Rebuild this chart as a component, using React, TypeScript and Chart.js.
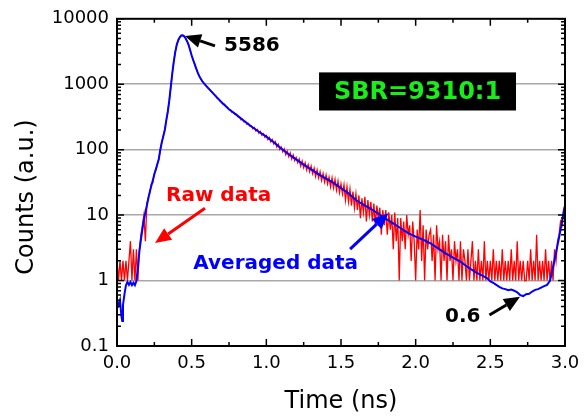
import React, { useEffect, useRef } from 'react';
import { Chart, registerables } from 'chart.js';

Chart.register(...registerables);

// ---------- data ----------
const RAW_T0 = 0;
const RAW_DT = 0.01; // ns between raw samples
const rawCounts = [
  2, 1, 2, 1, 2, 1, 2, 1, 2, 4,
  1, 3, 1, 3, 1, 3, 5, 7, 10, 4,
  15, 19, 22, 30, 31, 43, 49, 61, 71, 99,
  129, 162, 201, 279, 381, 558, 902, 1446, 2205, 3096,
  4005, 4697, 5204, 5541, 5586, 5396, 5004, 4494, 3957, 3296,
  2757, 2343, 2036, 1744, 1526, 1333, 1228, 1114, 1052, 979,
  935, 874, 838, 779, 748, 693, 667, 612, 597, 553,
  541, 497, 495, 462, 441, 410, 409, 372, 371, 346,
  349, 318, 320, 286, 294, 265, 270, 243, 251, 228,
  232, 209, 218, 192, 204, 178, 190, 166, 176, 155,
  165, 143, 154, 131, 143, 122, 133, 110, 121, 101,
  110, 93, 103, 84, 95, 78, 89, 72, 83, 68,
  76, 63, 72, 56, 67, 53, 63, 49, 59, 46,
  56, 43, 52, 39, 49, 37, 46, 34, 43, 32,
  41, 30, 38, 27, 37, 26, 35, 24, 33, 22,
  30, 21, 29, 17, 27, 16, 25, 14, 23, 13,
  21, 12, 20, 9, 18, 11, 19, 8, 17, 10,
  16, 8, 15, 7, 14, 9, 13, 5, 12, 7,
  12, 5, 11, 6, 10, 3, 11, 4, 9, 1,
  9, 4, 8, 3, 10, 5, 7, 2, 8, 4,
  1, 6, 3, 12, 2, 7, 1, 6, 3, 5,
  6, 2, 5, 1, 7, 3, 4, 1, 5, 2,
  4, 1, 5, 2, 3, 1, 4, 2, 3, 1,
  4, 1, 3, 2, 1, 3, 1, 2, 4, 1,
  2, 1, 3, 1, 2, 1, 4, 1, 2, 1,
  2, 1, 3, 1, 2, 1, 2, 1, 3, 1,
  2, 1, 2, 1, 3, 1, 2, 1, 4, 1,
  2, 1, 2, 1, 1, 2, 1, 3, 1, 2,
  1, 5, 1, 2, 1, 2, 1, 3, 1, 2,
  1, 2, 1, 3, 2, 4, 5, 8, 7, 12, 14,
];

const avgTime = [
  0, 0.01, 0.02, 0.03, 0.035, 0.04, 0.05, 0.06, 0.07, 0.08, 0.09, 0.1, 0.11, 0.12, 0.13,
  0.14, 0.15, 0.16, 0.17, 0.18, 0.19, 0.2, 0.21, 0.22, 0.23, 0.24, 0.25, 0.26, 0.27, 0.28, 0.29,
  0.3, 0.31, 0.32, 0.33, 0.34, 0.35, 0.36, 0.37, 0.38, 0.39, 0.4, 0.41, 0.42, 0.43, 0.44,
  0.45, 0.46, 0.47, 0.48, 0.49, 0.5, 0.51, 0.52, 0.53, 0.54, 0.55, 0.56, 0.57, 0.58, 0.59, 0.6,
  0.65, 0.7, 0.75, 0.8, 0.85, 0.9, 0.95, 1.0, 1.05, 1.1, 1.15, 1.2, 1.25, 1.3, 1.35, 1.4,
  1.45, 1.5, 1.55, 1.6, 1.65, 1.7, 1.75, 1.8, 1.85, 1.9, 1.95, 2.0, 2.05, 2.1, 2.15, 2.2,
  2.25, 2.3, 2.35, 2.4, 2.45, 2.48, 2.5, 2.52, 2.54, 2.56, 2.58, 2.6, 2.62, 2.64, 2.66, 2.68,
  2.7, 2.72, 2.74, 2.76, 2.78, 2.8, 2.82, 2.84, 2.86, 2.88, 2.9, 2.92, 2.94, 2.96, 2.98, 3.0,
];
const avgCounts = [
  0.49, 0.42, 0.5, 0.28, 0.24, 0.42, 0.62, 0.85, 0.95, 0.86, 0.95, 0.85, 0.93, 0.85, 0.98,
  1.6, 2.8, 4.2, 6.0, 8.5, 11, 14, 18, 23, 28, 34, 42, 50, 60, 72, 100,
  130, 160, 200, 280, 380, 560, 900, 1450, 2200, 3100, 4000, 4700, 5200, 5550, 5586,
  5400, 5000, 4500, 3950, 3300, 2750, 2350, 2030, 1750, 1520, 1340, 1220, 1120, 1045, 985, 930,
  700, 530, 415, 340, 276, 226, 188, 158, 130, 104, 85, 71, 59, 50, 42, 36,
  31, 26, 21.5, 17, 14.5, 12.5, 10.5, 8.8, 7.5, 6.3, 5.3, 4.7, 4.2, 3.7, 3.1, 2.6,
  2.25, 1.95, 1.6, 1.35, 1.18, 1.08, 0.97, 0.92, 0.86, 0.8, 0.76, 0.74, 0.71, 0.73, 0.7, 0.66,
  0.6, 0.58, 0.62, 0.63, 0.68, 0.72, 0.74, 0.78, 0.82, 0.86, 1.0, 1.6, 2.7, 4.5, 8, 14,
];

const xTicks = [0, 0.5, 1, 1.5, 2, 2.5, 3];
const xTickLabels = ['0.0', '0.5', '1.0', '1.5', '2.0', '2.5', '3.0'];
const yTicks = [0.1, 1, 10, 100, 1000, 10000];
const yTickLabels = ['0.1', '1', '10', '100', '1000', '10000'];
const yGridValues = [1, 10, 100, 1000];

const xTitle = 'Time (ns)';
const yTitle = 'Counts (a.u.)';

// annotations in data coordinates
const textNotes = [
  { text: '5586', t: 0.717, v: 3810, color: '#000000' },
  { text: 'Raw data', t: 0.328, v: 19.6, color: '#ff0000' },
  { text: 'Averaged data', t: 0.511, v: 1.81, color: '#0000ff' },
  { text: '0.6', t: 2.197, v: 0.279, color: '#000000' },
];
const arrowNotes = [
  { t0: 0.656, v0: 3860, t1: 0.455, v1: 5480, color: '#000000' },
  { t0: 0.589, v0: 12.7, t1: 0.2545, v1: 3.74, color: '#ff0000' },
  { t0: 1.561, v0: 3.03, t1: 1.817, v1: 10.7, color: '#0000ff' },
  { t0: 2.494, v0: 0.297, t1: 2.699, v1: 0.565, color: '#000000' },
];
const sbrNote = { text: 'SBR=9310:1', t0: 1.353, t1: 2.672, v0: 397, v1: 1517 };

const FONT = "'DejaVu Sans', Verdana, sans-serif";

function drawArrow(ctx: CanvasRenderingContext2D, x0: number, y0: number, x1: number, y1: number, color: string) {
  const ang = Math.atan2(y1 - y0, x1 - x0);
  const headLen = 16;
  const headHalf = 7;
  const bx = x1 - headLen * Math.cos(ang);
  const by = y1 - headLen * Math.sin(ang);
  ctx.save();
  ctx.strokeStyle = color;
  ctx.fillStyle = color;
  ctx.lineWidth = 3;
  ctx.beginPath();
  ctx.moveTo(x0, y0);
  ctx.lineTo(bx, by);
  ctx.stroke();
  ctx.beginPath();
  ctx.moveTo(x1, y1);
  ctx.lineTo(bx + headHalf * Math.sin(ang), by - headHalf * Math.cos(ang));
  ctx.lineTo(bx - headHalf * Math.sin(ang), by + headHalf * Math.cos(ang));
  ctx.closePath();
  ctx.fill();
  ctx.restore();
}

const framePlugin = {
  id: 'framePlugin',
  afterDatasetsDraw(chart: any) {
    const { ctx, chartArea } = chart;
    const { left, right, top, bottom } = chartArea;
    const xs = chart.scales.x;
    const ys = chart.scales.y;
    ctx.save();
    ctx.strokeStyle = '#000000';
    ctx.lineWidth = 1.5;
    ctx.beginPath();
    for (let k = 0; k <= 12; k++) {
      const px = xs.getPixelForValue(k * 0.25);
      const len = k % 2 === 0 ? 7 : 4;
      ctx.moveTo(px, bottom);
      ctx.lineTo(px, bottom - len);
      ctx.moveTo(px, top);
      ctx.lineTo(px, top + len);
    }
    for (let d = -1; d <= 4; d++) {
      const base = Math.pow(10, d);
      for (let m = 1; m <= 9; m++) {
        if (d === 4 && m > 1) break;
        const py = ys.getPixelForValue(base * m);
        const len = m === 1 ? 7 : 4;
        ctx.moveTo(left, py);
        ctx.lineTo(left + len, py);
        ctx.moveTo(right, py);
        ctx.lineTo(right - len, py);
      }
    }
    ctx.stroke();
    ctx.lineWidth = 2;
    ctx.strokeRect(left, top, right - left, bottom - top);
    ctx.restore();
  },
  afterDraw(chart: any) {
    const { ctx, chartArea } = chart;
    const xs = chart.scales.x;
    const ys = chart.scales.y;
    ctx.save();
    // axis titles
    ctx.fillStyle = '#000000';
    ctx.font = `24px ${FONT}`;
    ctx.textAlign = 'center';
    ctx.textBaseline = 'middle';
    ctx.fillText(xTitle, (chartArea.left + chartArea.right) / 2, 402);
    ctx.save();
    ctx.translate(27, 197);
    ctx.rotate(-Math.PI / 2);
    ctx.fillText(yTitle, 0, 0);
    ctx.restore();

    // SBR box
    const bx0 = xs.getPixelForValue(sbrNote.t0);
    const bx1 = xs.getPixelForValue(sbrNote.t1);
    const by0 = ys.getPixelForValue(sbrNote.v1);
    const by1 = ys.getPixelForValue(sbrNote.v0);
    ctx.fillStyle = '#000000';
    ctx.fillRect(bx0, by0, bx1 - bx0, by1 - by0);
    ctx.fillStyle = '#1aee1a';
    ctx.font = `bold 24px ${FONT}`;
    ctx.textAlign = 'center';
    ctx.textBaseline = 'middle';
    ctx.fillText(sbrNote.text, (bx0 + bx1) / 2, (by0 + by1) / 2 + 1);

    // text notes
    ctx.font = `bold 20px ${FONT}`;
    ctx.textAlign = 'left';
    ctx.textBaseline = 'middle';
    for (const n of textNotes) {
      ctx.fillStyle = n.color;
      ctx.fillText(n.text, xs.getPixelForValue(n.t), ys.getPixelForValue(n.v));
    }
    for (const a of arrowNotes) {
      drawArrow(
        ctx,
        xs.getPixelForValue(a.t0),
        ys.getPixelForValue(a.v0),
        xs.getPixelForValue(a.t1),
        ys.getPixelForValue(a.v1),
        a.color,
      );
    }
    ctx.restore();
  },
};

export default function App() {
  const canvasRef = useRef<HTMLCanvasElement | null>(null);

  useEffect(() => {
    const canvas = canvasRef.current;
    if (!canvas) return;
    const rawPoints = rawCounts.map((v, i) => ({ x: RAW_T0 + i * RAW_DT, y: v }));
    const avgPoints = avgTime.map((t, i) => ({ x: t, y: avgCounts[i] }));
    const chart = new Chart(canvas, {
      type: 'line',
      data: {
        datasets: [
          {
            label: 'Raw data',
            data: rawPoints,
            borderColor: '#ff0000',
            borderWidth: 1.3,
            pointRadius: 0,
            tension: 0,
            order: 2,
          },
          {
            label: 'Averaged data',
            data: avgPoints,
            borderColor: '#0000ff',
            borderWidth: 2,
            pointRadius: 0,
            tension: 0,
            order: 1,
          },
        ],
      },
      options: {
        responsive: false,
        animation: false,
        devicePixelRatio: 1,
        layout: { padding: { top: 17, right: 23, left: 0, bottom: 0 } },
        plugins: {
          legend: { display: false },
          tooltip: { enabled: false },
        },
        scales: {
          x: {
            type: 'linear',
            min: 0,
            max: 3,
            afterBuildTicks: (scale: any) => {
              scale.ticks = xTicks.map((v) => ({ value: v }));
            },
            afterFit: (scale: any) => {
              scale.height = 71;
            },
            grid: { display: false, drawTicks: false },
            border: { display: false },
            ticks: {
              padding: 7,
              color: '#000000',
              font: { family: FONT, size: 18 },
              maxRotation: 0,
              autoSkip: false,
              callback: (_v: any, i: number) => xTickLabels[i],
            },
          },
          y: {
            type: 'logarithmic',
            min: 0.1,
            max: 10000,
            afterBuildTicks: (scale: any) => {
              scale.ticks = yTicks.map((v) => ({ value: v }));
            },
            afterFit: (scale: any) => {
              scale.width = 117;
            },
            grid: {
              drawTicks: false,
              lineWidth: 1.5,
              color: (c: any) =>
                c.tick && yGridValues.includes(c.tick.value) ? '#a8a8a8' : 'rgba(0,0,0,0)',
            },
            border: { display: false },
            ticks: {
              padding: 8,
              color: '#000000',
              font: { family: FONT, size: 18 },
              autoSkip: false,
              callback: (_v: any, i: number) => yTickLabels[i],
            },
          },
        },
      },
      plugins: [framePlugin],
    } as any);
    return () => chart.destroy();
  }, []);

  return (
    <div style={{ position: 'fixed', left: 0, top: 0, width: 588, height: 417, background: '#ffffff' }}>
      <canvas ref={canvasRef} width={588} height={417} />
    </div>
  );
}
